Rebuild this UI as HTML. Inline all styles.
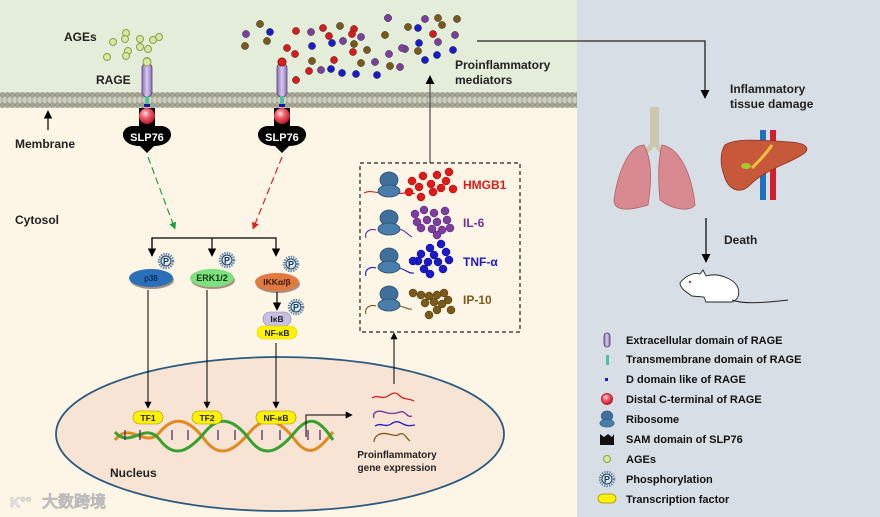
<!DOCTYPE html>
<html><head><meta charset="utf-8"><style>
html,body{margin:0;padding:0;background:#fff}
svg{display:block}
text{font-family:"Liberation Sans",Arial,sans-serif;font-weight:bold}
</style></head><body>
<svg width="880" height="517" viewBox="0 0 880 517" xmlns="http://www.w3.org/2000/svg">
<defs>
<pattern id="mem" x="0" y="92" width="5" height="16" patternUnits="userSpaceOnUse">
<rect width="5" height="16" fill="#cfcfbf"/>
<circle cx="2.5" cy="3" r="2.3" fill="#a8a898" stroke="#7a7a6a" stroke-width="0.5"/>
<circle cx="2.5" cy="13" r="2.3" fill="#a8a898" stroke="#7a7a6a" stroke-width="0.5"/>
<line x1="2" y1="5" x2="2" y2="11" stroke="#8a8a7a" stroke-width="0.6"/>
</pattern>
<radialGradient id="rb" cx="0.4" cy="0.35" r="0.7"><stop offset="0" stop-color="#ffe0e0"/><stop offset="0.4" stop-color="#f06070"/><stop offset="1" stop-color="#b01020"/></radialGradient>
<linearGradient id="cap" x1="0" x2="1"><stop offset="0" stop-color="#8a70b0"/><stop offset="0.5" stop-color="#d8c8f0"/><stop offset="1" stop-color="#8a70b0"/></linearGradient>
<marker id="ak" viewBox="0 0 10 10" refX="9" refY="5" markerWidth="7" markerHeight="7" orient="auto"><path d="M0,0L10,5L0,10z" fill="#000"/></marker>
<marker id="ag" viewBox="0 0 10 10" refX="9" refY="5" markerWidth="6" markerHeight="6" orient="auto"><path d="M0,0L10,5L0,10z" fill="#1aa040"/></marker>
<marker id="ar" viewBox="0 0 10 10" refX="9" refY="5" markerWidth="6" markerHeight="6" orient="auto"><path d="M0,0L10,5L0,10z" fill="#e02020"/></marker>
<g id="ribo"><ellipse cx="0" cy="-6" rx="9" ry="8" fill="#3f6f9a" stroke="#2a4f70" stroke-width="0.8"/><ellipse cx="0" cy="5" rx="11" ry="6" fill="#4a7eaa" stroke="#2a4f70" stroke-width="0.8"/></g>
<g id="ph"><circle r="7" fill="#fff" stroke="#6a8aa8" stroke-width="2.5" stroke-dasharray="1.5 1"/><circle r="5" fill="#dde8f0" stroke="#1a3a5a" stroke-width="1"/><text x="0" y="3.5" font-size="9" text-anchor="middle" fill="#1a3a5a">P</text></g>
</defs>
<!-- backgrounds -->
<rect x="0" y="0" width="577" height="100" fill="#e3edd9"/>
<rect x="0" y="100" width="577" height="417" fill="#fdf6e6"/>
<rect x="577" y="0" width="303" height="517" fill="#d8dee6"/>
<rect x="0" y="92" width="577" height="16" fill="url(#mem)"/>

<!-- labels -->
<text x="64" y="41" font-size="12" fill="#222">AGEs</text>
<text x="96" y="84" font-size="12" fill="#222">RAGE</text>
<text x="15" y="148" font-size="12" fill="#222">Membrane</text>
<line x1="48" y1="130" x2="48" y2="111" stroke="#000" stroke-width="1.2" marker-end="url(#ak)"/>
<text x="15" y="224" font-size="12" fill="#222">Cytosol</text>

<!-- AGEs -->
<g fill="#d8e8a0" stroke="#8aa050" stroke-width="1">
<circle cx="113" cy="42" r="3.5"/><circle cx="126" cy="33" r="3.5"/><circle cx="125" cy="39" r="3.5"/><circle cx="140" cy="39" r="3.5"/><circle cx="153" cy="40" r="3.5"/><circle cx="159" cy="37" r="3.5"/><circle cx="140" cy="47" r="3.5"/><circle cx="128" cy="51" r="3.5"/><circle cx="148" cy="49" r="3.5"/><circle cx="107" cy="57" r="3.5"/><circle cx="126" cy="56" r="3.5"/><circle cx="147" cy="61" r="3.5"/>
</g>

<!-- RAGE receptors -->
<g id="rage1">
<rect x="142" y="63" width="10" height="34" rx="5" fill="url(#cap)" stroke="#5a4080" stroke-width="0.8"/>
<rect x="145" y="96" width="4" height="8" fill="#50c0a0"/>
<rect x="144" y="104" width="6" height="3" fill="#1a1aa0"/>
<rect x="139" y="108" width="16" height="20" fill="#000"/>
<circle cx="147" cy="116" r="8" fill="url(#rb)"/>
<path d="M147,153 L140,146 C120,146 118,128 132,126 L162,126 C176,128 174,146 154,146 Z" fill="#000"/>
<text x="147" y="141" font-size="11" fill="#fff" text-anchor="middle">SLP76</text>
</g>
<use href="#rage1" x="135"/>
<circle cx="147" cy="62" r="4" fill="#d8e8a0" stroke="#8aa050"/>
<circle cx="282" cy="62" r="4" fill="#e02020" stroke="#901010"/>

<!-- mediators -->
<g stroke="#333" stroke-width="0.5">
<circle cx="246" cy="34" r="3.6" fill="#7d3f9e"/><circle cx="260" cy="24" r="3.6" fill="#7a5a1a"/><circle cx="270" cy="32" r="3.6" fill="#1a1acc"/><circle cx="245" cy="46" r="3.6" fill="#7a5a1a"/><circle cx="267" cy="41" r="3.6" fill="#7a5a1a"/>
<circle cx="296" cy="31" r="3.6" fill="#d9191c"/><circle cx="311" cy="32" r="3.6" fill="#7d3f9e"/><circle cx="323" cy="28" r="3.6" fill="#d9191c"/><circle cx="329" cy="36" r="3.6" fill="#d9191c"/><circle cx="340" cy="26" r="3.6" fill="#7a5a1a"/><circle cx="354" cy="29" r="3.6" fill="#d9191c"/><circle cx="361" cy="37" r="3.6" fill="#7d3f9e"/><circle cx="388" cy="18" r="3.6" fill="#7d3f9e"/><circle cx="385" cy="35" r="3.6" fill="#7a5a1a"/><circle cx="408" cy="27" r="3.6" fill="#7a5a1a"/>
<circle cx="287" cy="48" r="3.6" fill="#d9191c"/><circle cx="295" cy="54" r="3.6" fill="#d9191c"/><circle cx="312" cy="46" r="3.6" fill="#1a1acc"/><circle cx="332" cy="43" r="3.6" fill="#1a1acc"/><circle cx="343" cy="41" r="3.6" fill="#7d3f9e"/><circle cx="353" cy="52" r="3.6" fill="#d9191c"/><circle cx="367" cy="50" r="3.6" fill="#7a5a1a"/><circle cx="389" cy="54" r="3.6" fill="#7d3f9e"/><circle cx="405" cy="49" r="3.6" fill="#7d3f9e"/>
<circle cx="312" cy="61" r="3.6" fill="#7a5a1a"/><circle cx="334" cy="60" r="3.6" fill="#d9191c"/><circle cx="321" cy="70" r="3.6" fill="#7d3f9e"/><circle cx="331" cy="69" r="3.6" fill="#1a1acc"/><circle cx="342" cy="73" r="3.6" fill="#1a1acc"/><circle cx="361" cy="63" r="3.6" fill="#7a5a1a"/><circle cx="375" cy="62" r="3.6" fill="#7d3f9e"/><circle cx="356" cy="74" r="3.6" fill="#1a1acc"/><circle cx="377" cy="75" r="3.6" fill="#1a1acc"/><circle cx="390" cy="66" r="3.6" fill="#7a5a1a"/><circle cx="400" cy="67" r="3.6" fill="#7d3f9e"/><circle cx="309" cy="71" r="3.6" fill="#d9191c"/><circle cx="296" cy="80" r="3.6" fill="#d9191c"/>
<circle cx="388" cy="18" r="3.6" fill="#7d3f9e"/><circle cx="418" cy="28" r="3.6" fill="#1a1acc"/><circle cx="433" cy="34" r="3.6" fill="#d9191c"/><circle cx="425" cy="19" r="3.6" fill="#7d3f9e"/><circle cx="442" cy="25" r="3.6" fill="#7a5a1a"/><circle cx="438" cy="18" r="3.6" fill="#7a5a1a"/><circle cx="438" cy="42" r="3.6" fill="#7d3f9e"/><circle cx="455" cy="35" r="3.6" fill="#7d3f9e"/><circle cx="453" cy="50" r="3.6" fill="#1a1acc"/><circle cx="437" cy="55" r="3.6" fill="#1a1acc"/><circle cx="419" cy="43" r="3.6" fill="#1a1acc"/><circle cx="418" cy="51" r="3.6" fill="#7a5a1a"/><circle cx="425" cy="60" r="3.6" fill="#1a1acc"/><circle cx="457" cy="19" r="3.6" fill="#7a5a1a"/><circle cx="402" cy="48" r="3.6" fill="#7d3f9e"/><circle cx="354" cy="44" r="3.6" fill="#7a5a1a"/><circle cx="352" cy="34" r="3.6" fill="#d9191c"/>
</g>
<text x="455" y="69" font-size="12" fill="#222">Proinflammatory</text>
<text x="455" y="84" font-size="12" fill="#222">mediators</text>
<line x1="430" y1="163" x2="430" y2="76" stroke="#555" stroke-width="1.3" marker-end="url(#ak)"/>
<polyline points="477,41 705,41 705,98" fill="none" stroke="#222" stroke-width="1.3" marker-end="url(#ak)"/>

<!-- signaling arrows -->
<line x1="148" y1="157" x2="175" y2="229" stroke="#1aa040" stroke-width="1.2" stroke-dasharray="7 4" marker-end="url(#ag)"/>
<line x1="282" y1="157" x2="253" y2="229" stroke="#e02020" stroke-width="1.2" stroke-dasharray="7 4" marker-end="url(#ar)"/>
<polyline points="152,256 152,238 276,238 276,256" fill="none" stroke="#000" stroke-width="1.2" marker-end="url(#ak)"/>
<line x1="152" y1="238" x2="152" y2="256" stroke="#000" stroke-width="1.2" marker-end="url(#ak)"/>
<line x1="212" y1="238" x2="212" y2="256" stroke="#000" stroke-width="1.2" marker-end="url(#ak)"/>

<!-- kinases -->
<ellipse cx="152" cy="280" rx="22" ry="9" fill="#a89080"/>
<ellipse cx="151" cy="278" rx="22" ry="9" fill="#2a70b8"/>
<text x="151" y="281" font-size="8" fill="#0a2a5a" text-anchor="middle" font-weight="normal">p38</text>
<ellipse cx="213" cy="280" rx="22" ry="9" fill="#a89080"/>
<ellipse cx="212" cy="278" rx="22" ry="9" fill="#7ee07e"/>
<text x="212" y="281" font-size="9" fill="#0a3a0a" text-anchor="middle" font-weight="normal">ERK1/2</text>
<ellipse cx="278" cy="284" rx="22" ry="9" fill="#a89080"/>
<ellipse cx="277" cy="282" rx="22" ry="9" fill="#e07a40"/>
<text x="277" y="285" font-size="8.5" fill="#3a1a0a" text-anchor="middle" font-weight="normal">IKKα/β</text>
<use href="#ph" x="166" y="261"/><use href="#ph" x="227" y="260"/><use href="#ph" x="291" y="264"/>
<line x1="277" y1="292" x2="277" y2="310" stroke="#000" stroke-width="1.2" marker-end="url(#ak)"/>
<rect x="263" y="312" width="28" height="14" rx="7" fill="#c8c0e0" stroke="#8880a8" stroke-width="0.6"/>
<text x="277" y="322" font-size="8.5" fill="#222" text-anchor="middle" font-weight="normal">IκB</text>
<use href="#ph" x="296" y="307"/>
<rect x="257" y="326" width="40" height="13" rx="6.5" fill="#fff200" stroke="#e0d000" stroke-width="0.6"/>
<text x="277" y="336" font-size="8.5" fill="#222" text-anchor="middle" font-weight="normal">NF-κB</text>

<!-- nucleus -->
<ellipse cx="280" cy="434" rx="224" ry="77" fill="#f8e4d4" stroke="#2a5a80" stroke-width="1.8"/>
<text x="110" y="477" font-size="12" fill="#222">Nucleus</text>
<line x1="148" y1="290" x2="148" y2="408" stroke="#000" stroke-width="1" marker-end="url(#ak)"/>
<line x1="207" y1="290" x2="207" y2="408" stroke="#000" stroke-width="1" marker-end="url(#ak)"/>
<line x1="276" y1="343" x2="276" y2="408" stroke="#000" stroke-width="1" marker-end="url(#ak)"/>
<!-- DNA -->
<path d="M115,440 C130,420 145,450 160,432 S190,420 205,440 S235,450 250,432 S280,420 295,440 S320,448 333,432" fill="none" stroke="#e08a20" stroke-width="3"/>
<path d="M115,432 C130,450 145,420 160,440 S190,450 205,432 S235,420 250,440 S280,450 295,432 S320,420 333,440" fill="none" stroke="#3aa030" stroke-width="3"/>
<g stroke="#402060" stroke-width="1.2">
<line x1="125" y1="430" x2="125" y2="440"/><line x1="140" y1="430" x2="140" y2="440"/><line x1="172" y1="430" x2="172" y2="440"/><line x1="188" y1="430" x2="188" y2="440"/><line x1="218" y1="430" x2="218" y2="440"/><line x1="235" y1="430" x2="235" y2="440"/><line x1="262" y1="430" x2="262" y2="440"/><line x1="280" y1="430" x2="280" y2="440"/><line x1="308" y1="430" x2="308" y2="440"/><line x1="320" y1="430" x2="320" y2="440"/>
</g>
<rect x="133" y="411" width="30" height="13" rx="6.5" fill="#fff200" stroke="#a09000" stroke-width="0.6"/>
<text x="148" y="421" font-size="8.5" fill="#222" text-anchor="middle">TF1</text>
<rect x="192" y="411" width="30" height="13" rx="6.5" fill="#fff200" stroke="#a09000" stroke-width="0.6"/>
<text x="207" y="421" font-size="8.5" fill="#222" text-anchor="middle">TF2</text>
<rect x="256" y="411" width="40" height="13" rx="6.5" fill="#fff200" stroke="#a09000" stroke-width="0.6"/>
<text x="276" y="421" font-size="8.5" fill="#222" text-anchor="middle">NF-κB</text>
<polyline points="306,437 306,415 352,415" fill="none" stroke="#000" stroke-width="1" marker-end="url(#ak)"/>
<!-- mRNA -->
<path d="M372,398 c6,-4 10,2 16,-2 s8,-4 12,0 s8,2 14,5" fill="none" stroke="#d02020" stroke-width="1.3"/>
<path d="M374,418 c-2,-6 4,-8 10,-6 s10,2 16,0 s6,6 12,4" fill="none" stroke="#7030a0" stroke-width="1.3"/>
<path d="M375,426 c6,-4 10,2 16,-2 s8,-2 12,0 s6,2 12,1" fill="none" stroke="#1a1acc" stroke-width="1.3"/>
<path d="M374,442 c0,-6 6,-10 14,-8 s8,2 12,0 s6,4 10,7" fill="none" stroke="#7a5a1a" stroke-width="1.3"/>
<text x="397" y="458" font-size="10" fill="#222" text-anchor="middle">Proinflammatory</text>
<text x="397" y="471" font-size="10" fill="#222" text-anchor="middle">gene expression</text>
<line x1="394" y1="384" x2="394" y2="333" stroke="#000" stroke-width="1" marker-end="url(#ak)"/>

<!-- dashed box -->
<rect x="360" y="163" width="160" height="169" fill="none" stroke="#222" stroke-width="1.2" stroke-dasharray="4 3"/>
<path d="M364,193 c8,-4 12,2 20,-2 M395,192 c6,4 12,-2 20,2" fill="none" stroke="#d02020" stroke-width="1.1"/>
<use href="#ribo" x="389" y="186"/>
<g fill="#e01a1a" stroke="#a01010" stroke-width="0.5">
<circle cx="412" cy="181" r="4"/><circle cx="423" cy="176" r="4"/><circle cx="437" cy="175" r="4"/><circle cx="449" cy="172" r="4"/><circle cx="446" cy="181" r="4"/><circle cx="431" cy="184" r="4"/><circle cx="419" cy="187" r="4"/><circle cx="409" cy="192" r="4"/><circle cx="441" cy="188" r="4"/><circle cx="453" cy="189" r="4"/><circle cx="421" cy="197" r="4"/><circle cx="433" cy="192" r="4"/>
</g>
<text x="463" y="189" font-size="12" fill="#e01a1a">HMGB1</text>
<path d="M366,238 c-2,-6 4,-10 10,-8 M398,229 c6,0 10,6 14,8" fill="none" stroke="#7030a0" stroke-width="1.1"/>
<use href="#ribo" x="389" y="224"/>
<g fill="#7d3f9e" stroke="#50207a" stroke-width="0.5">
<circle cx="415" cy="214" r="4"/><circle cx="424" cy="210" r="4"/><circle cx="434" cy="213" r="4"/><circle cx="445" cy="211" r="4"/><circle cx="417" cy="222" r="4"/><circle cx="427" cy="220" r="4"/><circle cx="437" cy="222" r="4"/><circle cx="447" cy="220" r="4"/><circle cx="421" cy="228" r="4"/><circle cx="432" cy="229" r="4"/><circle cx="442" cy="230" r="4"/><circle cx="450" cy="228" r="4"/><circle cx="437" cy="235" r="4"/>
</g>
<text x="463" y="227" font-size="12" fill="#7030a0">IL-6</text>
<path d="M366,276 c-2,-6 4,-10 10,-8 M398,268 c6,0 10,6 16,5" fill="none" stroke="#1a1acc" stroke-width="1.1"/>
<use href="#ribo" x="389" y="262"/>
<g fill="#1a1acc" stroke="#0a0a80" stroke-width="0.5">
<circle cx="430" cy="248" r="4"/><circle cx="441" cy="244" r="4"/><circle cx="421" cy="254" r="4"/><circle cx="434" cy="255" r="4"/><circle cx="446" cy="252" r="4"/><circle cx="418" cy="261" r="4"/><circle cx="428" cy="262" r="4"/><circle cx="438" cy="262" r="4"/><circle cx="449" cy="260" r="4"/><circle cx="413" cy="261" r="4"/><circle cx="424" cy="269" r="4"/><circle cx="443" cy="269" r="4"/><circle cx="430" cy="274" r="4"/>
</g>
<text x="463" y="266" font-size="12" fill="#1a1acc">TNF-α</text>
<path d="M366,314 c-2,-6 4,-10 10,-8 M398,306 c6,0 10,4 14,3" fill="none" stroke="#7a5a1a" stroke-width="1.1"/>
<use href="#ribo" x="389" y="300"/>
<g fill="#7a5a1a" stroke="#4a3a0a" stroke-width="0.5">
<circle cx="413" cy="293" r="4"/><circle cx="421" cy="295" r="4"/><circle cx="429" cy="296" r="4"/><circle cx="437" cy="295" r="4"/><circle cx="444" cy="293" r="4"/><circle cx="448" cy="300" r="4"/><circle cx="425" cy="303" r="4"/><circle cx="434" cy="302" r="4"/><circle cx="442" cy="304" r="4"/><circle cx="437" cy="310" r="4"/><circle cx="451" cy="310" r="4"/><circle cx="429" cy="315" r="4"/>
</g>
<text x="463" y="304" font-size="12" fill="#7a5a1a">IP-10</text>

<!-- right panel -->
<text x="730" y="93" font-size="12" fill="#222">Inflammatory</text>
<text x="730" y="108" font-size="12" fill="#222">tissue damage</text>
<!-- lungs -->
<rect x="650" y="107" width="9" height="40" fill="#ccc8b0"/>
<path d="M654,143 L646,152 M655,143 L662,152" stroke="#ccc8b0" stroke-width="5" fill="none"/>
<path d="M644,145 C630,145 618,170 614,200 C614,210 625,212 648,205 C652,180 652,160 644,145 Z" fill="#d88a90" stroke="#b06068" stroke-width="0.8"/>
<path d="M662,145 C680,148 692,175 695,205 C690,212 672,210 660,200 C658,180 658,160 662,145 Z" fill="#d88a90" stroke="#b06068" stroke-width="0.8"/>
<!-- liver -->
<rect x="760" y="130" width="6" height="70" fill="#2070c0"/>
<rect x="770" y="130" width="6" height="70" fill="#d02030"/>
<path d="M725,145 C735,138 760,140 790,142 C808,143 812,150 800,156 C785,165 765,170 750,185 C740,195 728,190 724,175 C720,165 720,152 725,145 Z" fill="#c8583a" stroke="#8a3020" stroke-width="0.8"/>
<path d="M772,145 C765,155 760,160 752,168" stroke="#f0c040" stroke-width="3" fill="none"/>
<ellipse cx="746" cy="166" rx="5" ry="3" fill="#a8c830"/>
<line x1="706" y1="218" x2="706" y2="262" stroke="#111" stroke-width="1.3" marker-end="url(#ak)"/>
<text x="724" y="244" font-size="12" fill="#222">Death</text>
<!-- mouse -->
<path d="M680,283 C685,276 694,272 700,274 L703,270 L706,276 C720,272 735,280 738,288 C740,294 738,300 732,302 L706,302 L704,297 L692,296 C686,292 680,288 680,283 Z" fill="#fff" stroke="#222" stroke-width="0.9"/>
<path d="M732,300 C745,305 770,302 788,300" fill="none" stroke="#222" stroke-width="1"/>
<circle cx="690" cy="282" r="1.2" fill="#a04040"/>

<!-- legend -->
<rect x="604" y="333" width="6" height="14" rx="3" fill="url(#cap)" stroke="#3a2a5a" stroke-width="0.7"/>
<rect x="606" y="355" width="3" height="10" fill="#50c0a0"/>
<rect x="605" y="378" width="3" height="3" fill="#1a1acc"/>
<circle cx="607" cy="399" r="5.5" fill="url(#rb)" stroke="#c02030" stroke-width="1"/>
<g transform="translate(607,420) scale(0.65)"><use href="#ribo"/></g>
<path d="M600,434 L604,437 L608,434 L612,437 L614,434 L614,445 L600,445 Z" fill="#111"/>
<circle cx="607" cy="459" r="3.5" fill="#d8e8a0" stroke="#8aa050"/>
<use href="#ph" x="607" y="479"/>
<rect x="598" y="494" width="18" height="9" rx="4.5" fill="#fff200" stroke="#a09000" stroke-width="0.8"/>
<g font-size="11" fill="#111">
<text x="626" y="344">Extracellular domain of RAGE</text>
<text x="626" y="363">Transmembrane domain of RAGE</text>
<text x="626" y="383">D domain like of RAGE</text>
<text x="626" y="403">Distal C-terminal of RAGE</text>
<text x="626" y="423">Ribosome</text>
<text x="626" y="443">SAM domain of SLP76</text>
<text x="626" y="463">AGEs</text>
<text x="626" y="483">Phosphorylation</text>
<text x="626" y="503">Transcription factor</text>
</g>
<!-- watermark -->
<text x="42" y="507" font-size="16" fill="#e0e0e0" font-family="'Liberation Sans','Noto Sans CJK SC',sans-serif" font-weight="normal" stroke="#bbb" stroke-width="0.5">大数跨境</text>
<text x="10" y="507" font-size="14" fill="#e8e8e8" stroke="#bbb" stroke-width="0.5">K°°</text>
</svg>
</body></html>
